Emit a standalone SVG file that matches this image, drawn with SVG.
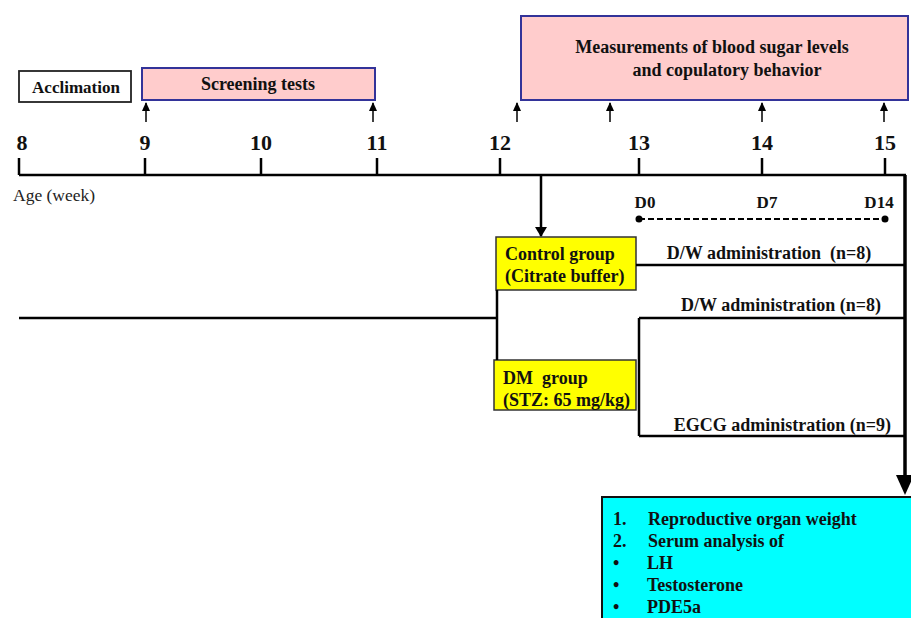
<svg xmlns="http://www.w3.org/2000/svg" width="911" height="618" viewBox="0 0 911 618">
<defs>
<style>
.t{font-family:"Liberation Serif","Times New Roman",serif;font-weight:bold;fill:#111;white-space:pre;}
.lbl{font-size:18px;}
.num{font-size:22px;}
.ln{stroke:#000;stroke-width:2.5;fill:none;}
.thin{stroke:#000;stroke-width:1.5;fill:none;}
.pink{fill:#ffcccc;stroke:#333399;stroke-width:2;}
.yel{fill:#ffff00;stroke:#333;stroke-width:1.5;}
</style>
<marker id="up" markerWidth="8" markerHeight="9" refX="4" refY="1" orient="0" markerUnits="userSpaceOnUse" viewBox="0 0 8 9">
<path d="M0,9 L4,0 L8,9 Z" fill="#000"/>
</marker>
<marker id="dn" markerWidth="12" markerHeight="10" refX="6" refY="9" orient="0" markerUnits="userSpaceOnUse" viewBox="0 0 12 10">
<path d="M0,0 L12,0 L6,10 Z" fill="#000"/>
</marker>
</defs>

<g id="acclimation">
<rect x="19" y="71" width="112" height="31" fill="#fff" stroke="#222" stroke-width="1.8"/>
<text class="t" font-size="17" x="76" y="93" text-anchor="middle">Acclimation</text>
</g>
<g id="screening">
<rect class="pink" x="142" y="68" width="233" height="32"/>
<text class="t lbl" x="258" y="90" text-anchor="middle">Screening tests</text>
</g>
<g id="measurements">
<rect class="pink" x="521" y="16" width="387" height="84"/>
<text class="t lbl" x="712" y="53" text-anchor="middle">Measurements of blood sugar levels</text>
<text class="t lbl" x="727" y="76" text-anchor="middle">and copulatory behavior</text>
</g>

<g id="timeline">
<line class="ln" x1="19" y1="175" x2="906" y2="175"/>
<line class="ln" x1="19" y1="158" x2="19" y2="175"/>
<line class="ln" x1="145" y1="158" x2="145" y2="175"/>
<line class="ln" x1="261" y1="158" x2="261" y2="175"/>
<line class="ln" x1="377" y1="158" x2="377" y2="175"/>
<line class="ln" x1="500" y1="158" x2="500" y2="175"/>
<line class="ln" x1="639" y1="158" x2="639" y2="175"/>
<line class="ln" x1="762" y1="158" x2="762" y2="175"/>
<line class="ln" x1="885" y1="158" x2="885" y2="175"/>
<text class="t num" x="22" y="150" text-anchor="middle">8</text>
<text class="t num" x="145" y="150" text-anchor="middle">9</text>
<text class="t num" x="261" y="150" text-anchor="middle">10</text>
<text class="t num" x="377" y="150" text-anchor="middle">11</text>
<text class="t num" x="500" y="150" text-anchor="middle">12</text>
<text class="t num" x="639" y="150" text-anchor="middle">13</text>
<text class="t num" x="762" y="150" text-anchor="middle">14</text>
<text class="t num" x="885" y="150" text-anchor="middle">15</text>
<text x="13" y="201" font-family="Liberation Serif, Times New Roman, serif" font-size="17.5" fill="#222">Age (week)</text>
</g>

<g id="days">
<line x1="639" y1="219" x2="885" y2="219" stroke="#000" stroke-width="2" stroke-dasharray="6,3"/>
<circle cx="639" cy="219" r="3.5" fill="#000"/>
<circle cx="885" cy="219" r="3.5" fill="#000"/>
<text class="t" font-size="17" x="645" y="208" text-anchor="middle">D0</text>
<text class="t" font-size="17" x="767" y="208" text-anchor="middle">D7</text>
<text class="t" font-size="17" x="879" y="208" text-anchor="middle">D14</text>
</g>

<g id="control">
<rect class="yel" x="496" y="237" width="140" height="53"/>
<text class="t lbl" x="505" y="260">Control group</text>
<text class="t lbl" x="505" y="282">(Citrate buffer)</text>
</g>
<g id="dm">
<rect class="yel" x="494" y="360" width="142" height="50"/>
<text class="t lbl" x="503" y="384">DM  group</text>
<text class="t lbl" x="503" y="406">(STZ: 65 mg/kg)</text>
</g>

<g id="results">
<rect x="602" y="497" width="312" height="125" fill="#00ffff" stroke="#111" stroke-width="2"/>
<g class="t lbl">
<text x="613" y="525">1.</text><text x="648" y="525">Reproductive organ weight</text>
<text x="613" y="547">2.</text><text x="648" y="547">Serum analysis of</text>
<text x="613" y="569">•</text><text x="647" y="569">LH</text>
<text x="613" y="591">•</text><text x="647" y="591">Testosterone</text>
<text x="613" y="613">•</text><text x="647" y="613">PDE5a</text>
</g>
</g>

<g id="connectors">
<line class="thin" x1="146" y1="122" x2="146" y2="103" marker-end="url(#up)"/>
<line class="thin" x1="373" y1="122" x2="373" y2="103" marker-end="url(#up)"/>
<line class="thin" x1="517" y1="122" x2="517" y2="103" marker-end="url(#up)"/>
<line class="thin" x1="610" y1="122" x2="610" y2="103" marker-end="url(#up)"/>
<line class="thin" x1="762" y1="122" x2="762" y2="103" marker-end="url(#up)"/>
<line class="thin" x1="884" y1="122" x2="884" y2="103" marker-end="url(#up)"/>
<line class="ln" x1="541" y1="176" x2="541" y2="236" marker-end="url(#dn)"/>
<line class="ln" x1="19" y1="318" x2="497" y2="318"/>
<line class="ln" x1="497" y1="290" x2="497" y2="360"/>
<line class="ln" x1="636" y1="265" x2="905" y2="265"/>
<text class="t lbl" x="769" y="259" text-anchor="middle">D/W administration  (n=8)</text>
<line class="ln" x1="639" y1="318" x2="905" y2="318"/>
<line class="ln" x1="639" y1="318" x2="639" y2="436"/>
<line class="ln" x1="639" y1="436" x2="905" y2="436"/>
<text class="t lbl" x="881" y="311" text-anchor="end">D/W administration (n=8)</text>
<text class="t lbl" x="891" y="431" text-anchor="end">EGCG administration (n=9)</text>
<line x1="905" y1="175" x2="905" y2="480" stroke="#000" stroke-width="3.5"/>
<path d="M896,475 L914,475 L905,495 Z" fill="#000"/>
</g>
</svg>
